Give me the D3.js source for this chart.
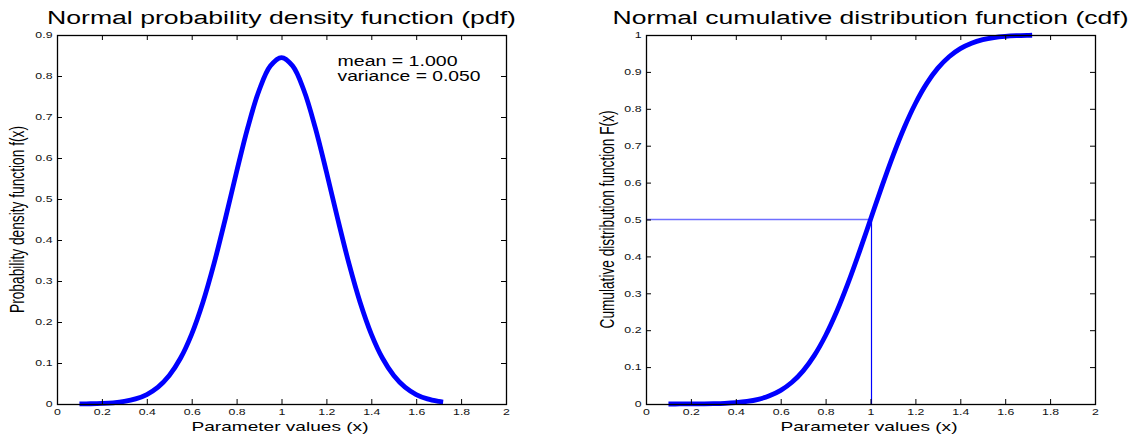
<!DOCTYPE html>
<html>
<head>
<meta charset="utf-8">
<script src="https://cdn.jsdelivr.net/npm/d3@7"></script>
<style>
  html, body { margin: 0; padding: 0; background: #fff; }
  svg { display: block; }
  text { font-family: "Liberation Sans", Arial, Helvetica, sans-serif; }
</style>
</head>
<body>
<svg id="chart" width="1134" height="434"></svg>
<script>
// Normal distribution, mean 1, variance 0.05
const meanValue = 1.0;
const varianceValue = 0.05;
const medianLevel = 0.5;

// Sample points along the parameter axis
const xValues = [0.10, 0.15, 0.20, 0.25, 0.30, 0.35, 0.40, 0.45, 0.50, 0.55, 0.60,
                 0.65, 0.70, 0.75, 0.80, 0.85, 0.90, 0.95, 1.00, 1.05, 1.10, 1.15,
                 1.20, 1.25, 1.30, 1.35, 1.40, 1.45, 1.50, 1.55, 1.60, 1.65, 1.70, 1.72];

// Density values f(x)
const pdfValues = [0.0003, 0.0006, 0.0014, 0.0030, 0.0063, 0.0124, 0.0231, 0.0410, 0.0694,
                   0.1115, 0.1706, 0.2483, 0.3436, 0.4523, 0.5664, 0.6747, 0.7646, 0.8241,
                   0.8450, 0.8241, 0.7646, 0.6747, 0.5664, 0.4523, 0.3436, 0.2483, 0.1706,
                   0.1115, 0.0694, 0.0410, 0.0231, 0.0124, 0.0063, 0.0047];

// Cumulative values F(x)
const cdfValues = [0.0000, 0.0001, 0.0002, 0.0004, 0.0009, 0.0018, 0.0036, 0.0069, 0.0127,
                   0.0221, 0.0368, 0.0588, 0.0899, 0.1318, 0.1856, 0.2512, 0.3274, 0.4115,
                   0.5000, 0.5885, 0.6726, 0.7488, 0.8144, 0.8682, 0.9101, 0.9412, 0.9632,
                   0.9779, 0.9873, 0.9931, 0.9964, 0.9982, 0.9991, 0.9993];

// Tick values
const xTickValues = [0, 0.2, 0.4, 0.6, 0.8, 1, 1.2, 1.4, 1.6, 1.8, 2];
const pdfTickValues = [0, 0.1, 0.2, 0.3, 0.4, 0.5, 0.6, 0.7, 0.8, 0.9];
const cdfTickValues = [0, 0.1, 0.2, 0.3, 0.4, 0.5, 0.6, 0.7, 0.8, 0.9, 1];

// Text
const pdfTitle = "Normal probability density function (pdf)";
const cdfTitle = "Normal cumulative distribution function (cdf)";
const xLabel = "Parameter values (x)";
const pdfYLabel = "Probability density function f(x)";
const cdfYLabel = "Cumulative distribution function F(x)";

const svg = d3.select("#chart");
const fmt = d => String(+d.toFixed(1));
const blue = "#0000ff";
const stretch = 1.45;

function panel(opts) {
  const { left, right, top, bottom, yMax, yTicks, values, title, titleLen, yLabel, yLabelLen, yLabelX } = opts;
  const x = d3.scaleLinear().domain([0, 2]).range([left, right]);
  const y = d3.scaleLinear().domain([0, yMax]).range([bottom, top]);
  const g = svg.append("g");

  if (opts.refLines) {
    // guide lines to the median
    g.append("line")
      .attr("x1", x(0)).attr("x2", x(meanValue))
      .attr("y1", y(medianLevel)).attr("y2", y(medianLevel))
      .style("stroke", "#6f6fff").style("stroke-width", 1.4);
    g.append("line")
      .attr("x1", Math.round(x(meanValue)) + 0.5).attr("x2", Math.round(x(meanValue)) + 0.5)
      .attr("y1", y(0)).attr("y2", y(medianLevel))
      .style("stroke", blue).style("stroke-width", 1.2);
  }

  const line = d3.line()
    .x((d, i) => x(xValues[i]))
    .y(d => y(d))
    .curve(d3.curveCatmullRom);
  g.append("path")
    .datum(values)
    .attr("d", line)
    .attr("fill", "none")
    .attr("stroke", blue)
    .attr("stroke-width", 4.8)
    .attr("stroke-linejoin", "round");

  // axes: ticks inside on all four sides
  const styleAxis = a => {
    a.select(".domain").remove();
    a.selectAll(".tick line").attr("stroke", "#000");
    a.selectAll(".tick text")
      .attr("fill", "#111")
      .style("font-size", "8.5px")
      .attr("transform", `scale(${stretch},1)`);
  };
  g.append("g").attr("transform", `translate(0,${bottom})`)
    .call(d3.axisBottom(x).tickValues(xTickValues).tickSize(-5).tickPadding(4.5).tickFormat(fmt))
    .call(styleAxis);
  g.append("g").attr("transform", `translate(0,${top})`)
    .call(d3.axisTop(x).tickValues(xTickValues).tickSize(-5).tickFormat(""))
    .call(styleAxis);
  g.append("g").attr("transform", `translate(${left},0)`)
    .call(d3.axisLeft(y).tickValues(yTicks).tickSize(-5).tickPadding(3.1).tickFormat(fmt))
    .call(styleAxis);
  g.append("g").attr("transform", `translate(${right},0)`)
    .call(d3.axisRight(y).tickValues(yTicks).tickSize(-5).tickFormat(""))
    .call(styleAxis);

  g.append("rect")
    .attr("x", left + 0.5).attr("y", top + 0.5)
    .attr("width", right - left).attr("height", bottom - top)
    .attr("fill", "none").attr("stroke", "#000").attr("stroke-width", 1.3);

  const cx = (left + right) / 2;
  g.append("text")
    .attr("x", cx - titleLen / 2).attr("y", 24.3)
    .attr("textLength", titleLen).attr("lengthAdjust", "spacingAndGlyphs")
    .style("font-size", "18px").attr("fill", "#000")
    .text(title);

  const xLabelLen = 177;
  g.append("text")
    .attr("x", cx - 1.5 - xLabelLen / 2).attr("y", 430.5)
    .attr("textLength", xLabelLen).attr("lengthAdjust", "spacingAndGlyphs")
    .style("font-size", "13.5px").attr("fill", "#000")
    .text(xLabel);

  const cy = (top + bottom) / 2;
  g.append("text")
    .attr("transform", `translate(${yLabelX},${cy}) rotate(-90) scale(1,1.44)`)
    .attr("x", -yLabelLen / 2).attr("y", 0)
    .attr("textLength", yLabelLen).attr("lengthAdjust", "spacingAndGlyphs")
    .style("font-size", "13.7px").attr("fill", "#000")
    .text(yLabel);

  return { x, y, g };
}

const pdfPanel = panel({
  left: 57, right: 506, top: 35, bottom: 404, yMax: 0.9, yTicks: pdfTickValues,
  values: pdfValues, title: pdfTitle, titleLen: 469,
  yLabel: pdfYLabel, yLabelLen: 187, yLabelX: 24
});

panel({
  left: 646, right: 1095, top: 35, bottom: 404, yMax: 1, yTicks: cdfTickValues,
  values: cdfValues, title: cdfTitle, titleLen: 516,
  yLabel: cdfYLabel, yLabelLen: 218, yLabelX: 613.5, refLines: true
});

// distribution parameters
const notes = [
  { text: `mean = ${meanValue.toFixed(3)}`, len: 120, y: 65.7 },
  { text: `variance = ${varianceValue.toFixed(3)}`, len: 143, y: 81 }
];
pdfPanel.g.selectAll(".note").data(notes).join("text")
  .attr("class", "note")
  .attr("x", 337.5).attr("y", d => d.y)
  .attr("textLength", d => d.len).attr("lengthAdjust", "spacingAndGlyphs")
  .style("font-size", "14px").attr("fill", "#000")
  .text(d => d.text);
</script>
</body>
</html>
